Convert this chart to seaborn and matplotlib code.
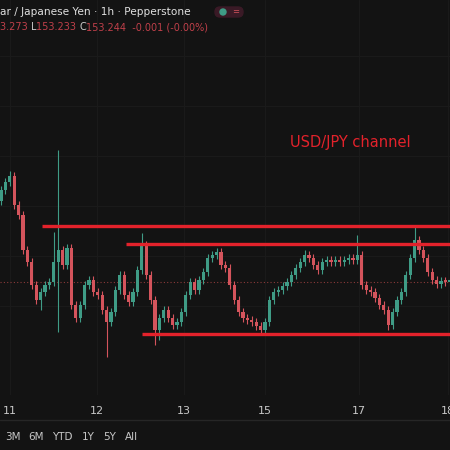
import numpy as np
import pandas as pd
import matplotlib
matplotlib.use("Agg")
import matplotlib.pyplot as plt
import seaborn as sns

closes = [154.16,154.24,154.30,154.01,153.91,153.56,153.44,153.21,153.06,153.14,
          153.21,153.24,153.44,153.56,153.41,153.58,153.01,152.88,153.01,153.21,
          153.26,153.14,153.11,152.96,152.84,152.94,153.16,153.31,153.11,153.04,
          153.14,153.36,153.61,153.31,153.06,152.76,152.88,152.96,152.88,152.81,
          152.84,152.94,153.11,153.24,153.16,153.26,153.34,153.48,153.51,153.54,
          153.41,153.38,153.21,153.06,152.94,152.88,152.86,152.84,152.80,152.76,
          152.84,153.06,153.14,153.16,153.20,153.24,153.31,153.38,153.44,153.51,
          153.48,153.41,153.36,153.44,153.46,153.44,153.46,153.44,153.46,153.48,
          153.46,153.51,153.21,153.16,153.14,153.08,153.01,152.96,152.81,152.94,
          153.06,153.14,153.31,153.48,153.66,153.56,153.48,153.34,153.26,153.22,
          153.25,153.24,153.24]
first_open = 154.05
wick_up = {12: 0.30, 13: 1.00, 32: 0.12, 69: 0.05, 81: 0.20, 94: 0.15, 2: 0.05}
wick_dn = {9: 0.10, 13: 0.70, 24: 0.35, 35: 0.15, 36: 0.10, 59: 0.05, 88: 0.05}
default_wick = 0.04

channel_levels = [153.80, 153.62, 152.72]
channel_starts = [9.3, 28.4, 32.0]
current_price = 153.24
tick_pos = [2.0, 21.8, 41.6, 60.0, 81.4, 101.6]
tick_labels = ["11", "12", "13", "15", "17", "18"]
ranges = ["3M", "6M", "YTD", "1Y", "5Y", "All"]

opens = [first_open] + closes[:-1]
df = pd.DataFrame({"i": np.arange(len(closes)), "open": opens, "close": closes})
df["high"] = [max(o, c) + wick_up.get(i, default_wick) for i, (o, c) in enumerate(zip(opens, closes))]
df["low"] = [min(o, c) - wick_dn.get(i, default_wick) for i, (o, c) in enumerate(zip(opens, closes))]
df["dir"] = np.where(df["close"] >= df["open"], "up", "down")

sns.set_theme(style="dark")
bg = "#131313"
fig = plt.figure(figsize=(4.5, 4.5), dpi=100, facecolor=bg)
ax = fig.add_axes([0, 55/450, 1, 395/450], facecolor=bg)
for s in ax.spines.values():
    s.set_visible(False)

colors = {"up": "#3f9c86", "down": "#d4545c"}
col = list(df["dir"].map(colors))
ax.vlines(df["i"], df["low"], df["high"], colors=col, lw=0.8, zorder=3)
ax.bar(df["i"], (df["close"] - df["open"]).abs().clip(lower=0.015),
       bottom=df[["open", "close"]].min(axis=1), width=0.7, color=col,
       edgecolor="none", linewidth=0, zorder=4)

for lv, st in zip(channel_levels, channel_starts):
    ax.hlines(lv, st, 103, colors="#e3222b", lw=2.4, zorder=5)
ax.axhline(current_price, color="#8a3a3a", lw=0.8, ls=(0, (1, 2)), zorder=2)

for t in tick_pos:
    ax.axvline(t, color="#1a1a1a", lw=0.8, zorder=1)
for y in [153.0, 153.5, 154.0, 154.5, 155.0, 155.5]:
    ax.axhline(y, color="#1a1a1a", lw=0.8, zorder=1)

ax.set_xlim(-0.23, 102.05)
ax.set_ylim(152.11, 156.06)
ax.set_yticks([])
ax.set_xticks(tick_pos)
ax.set_xticklabels(tick_labels, color="#c8c8c8", fontsize=8)
ax.tick_params(axis="x", length=0, pad=8)
ax.grid(False)

ax.text(290, 450-143, "USD/JPY channel", transform=None, color="#e3222b",
        fontsize=10.5, va="center", ha="left")

fig.text(0, 1-12/450, "ar / Japanese Yen · 1h · Pepperstone", color="#e0e0e0",
         fontsize=7.6, va="center", ha="left", fontweight="medium")
fig.patches.append(matplotlib.patches.FancyBboxPatch((215/450, 1-17/450), 28/450, 10/450,
    boxstyle="round,pad=0,rounding_size=0.011", transform=fig.transFigure, color="#3a1a26"))
fig.patches.append(matplotlib.patches.Circle((223/450, 1-12/450), 3/450, transform=fig.transFigure, color="#3f9c86"))
fig.text(236/450, 1-12/450, "=", color="#d4545c", fontsize=6, ha="center", va="center")
parts = [("3.273 ", "#c0404a"), ("L", "#cccccc"), ("153.233 ", "#c0404a"), ("C", "#cccccc"),
         ("153.244  -0.001 (-0.00%)", "#c0404a")]
x = 0.0
renderer = fig.canvas.get_renderer()
for s, c in parts:
    t = fig.text(x, 1-27/450, s, color=c, fontsize=7, va="center", ha="left")
    x += t.get_window_extent(renderer).width / 450

fig.add_artist(matplotlib.lines.Line2D([0, 1], [1-420/450, 1-420/450], color="#262626", lw=1))
xs = [5, 28, 52, 82, 103, 125]
for s, xx in zip(ranges, xs):
    fig.text(xx/450, 1-437/450, s, color="#c8c8c8", fontsize=7.5, va="center", ha="left")

fig.savefig("out.png", dpi=100, facecolor=bg)
